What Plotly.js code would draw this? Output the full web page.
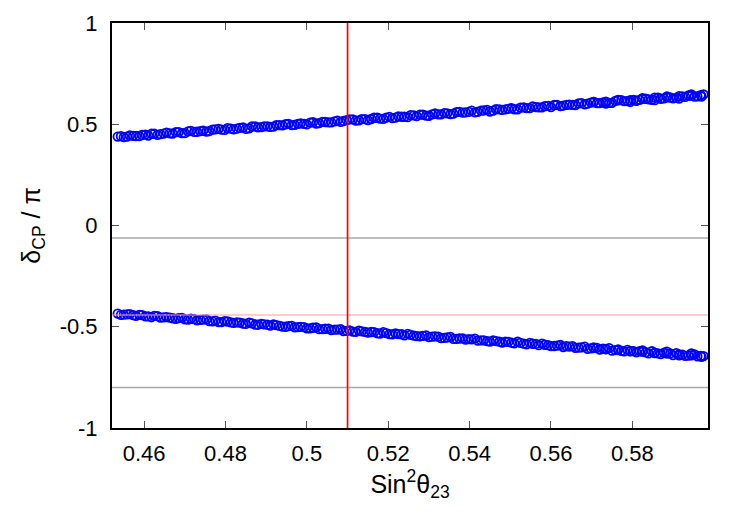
<!DOCTYPE html>
<html>
<head>
<meta charset="utf-8">
<script src="https://cdn.plot.ly/plotly-3.0.1.min.js"></script>
<style>
  html, body { margin: 0; padding: 0; background: #ffffff; }
  #plot { width: 750px; height: 525px; }
</style>
</head>
<body>
<div id="plot"></div>
<script>
// sin^2(theta23) sample points, first scan pass
const sin2ScanA = [
  0.4535, 0.4550, 0.4565, 0.4580, 0.4595, 0.4610, 0.4625, 0.4640, 0.4655, 0.4670,
  0.4685, 0.4700, 0.4715, 0.4730, 0.4745, 0.4760, 0.4775, 0.4790, 0.4805, 0.4820,
  0.4835, 0.4850, 0.4865, 0.4880, 0.4895, 0.4910, 0.4925, 0.4940, 0.4955, 0.4970,
  0.4985, 0.5000, 0.5015, 0.5030, 0.5045, 0.5060, 0.5075, 0.5090, 0.5105, 0.5120,
  0.5135, 0.5150, 0.5165, 0.5180, 0.5195, 0.5210, 0.5225, 0.5240, 0.5255, 0.5270,
  0.5285, 0.5300, 0.5315, 0.5330, 0.5345, 0.5360, 0.5375, 0.5390, 0.5405, 0.5420,
  0.5435, 0.5450, 0.5465, 0.5480, 0.5495, 0.5510, 0.5525, 0.5540, 0.5555, 0.5570,
  0.5585, 0.5600, 0.5615, 0.5630, 0.5645, 0.5660, 0.5675, 0.5690, 0.5705, 0.5720,
  0.5735, 0.5750, 0.5765, 0.5780, 0.5795, 0.5810, 0.5825, 0.5840, 0.5855, 0.5870,
  0.5885, 0.5900, 0.5915, 0.5930, 0.5945, 0.5960, 0.5975
];

// delta_CP / pi, upper branch, first pass
const deltaUpperA = [
  0.439, 0.436, 0.445, 0.442, 0.447, 0.444, 0.453, 0.451, 0.459, 0.454,
  0.461, 0.456, 0.467, 0.463, 0.468, 0.466, 0.475, 0.473, 0.481, 0.475,
  0.482, 0.477, 0.489, 0.485, 0.490, 0.487, 0.496, 0.494, 0.502, 0.497,
  0.504, 0.499, 0.510, 0.506, 0.511, 0.509, 0.518, 0.516, 0.524, 0.518,
  0.525, 0.520, 0.532, 0.528, 0.533, 0.530, 0.539, 0.537, 0.545, 0.540,
  0.547, 0.542, 0.553, 0.549, 0.554, 0.552, 0.561, 0.559, 0.567, 0.561,
  0.568, 0.563, 0.575, 0.571, 0.576, 0.573, 0.582, 0.580, 0.588, 0.583,
  0.590, 0.585, 0.596, 0.592, 0.597, 0.595, 0.604, 0.602, 0.610, 0.604,
  0.611, 0.606, 0.618, 0.614, 0.619, 0.616, 0.625, 0.623, 0.631, 0.626,
  0.633, 0.628, 0.639, 0.635, 0.640, 0.638, 0.647
];

// delta_CP / pi, lower branch, first pass
const deltaLowerA = [
  -0.435, -0.440, -0.438, -0.446, -0.443, -0.449, -0.446, -0.455, -0.452, -0.458,
  -0.457, -0.463, -0.460, -0.468, -0.465, -0.472, -0.470, -0.477, -0.474, -0.481,
  -0.480, -0.486, -0.483, -0.490, -0.488, -0.494, -0.492, -0.499, -0.497, -0.503,
  -0.501, -0.508, -0.505, -0.512, -0.510, -0.516, -0.514, -0.521, -0.518, -0.525,
  -0.523, -0.529, -0.527, -0.534, -0.531, -0.538, -0.536, -0.543, -0.540, -0.546,
  -0.545, -0.551, -0.548, -0.556, -0.553, -0.560, -0.558, -0.564, -0.562, -0.569,
  -0.567, -0.573, -0.571, -0.578, -0.575, -0.582, -0.580, -0.587, -0.584, -0.591,
  -0.589, -0.596, -0.593, -0.600, -0.598, -0.604, -0.602, -0.609, -0.606, -0.613,
  -0.611, -0.618, -0.615, -0.622, -0.620, -0.626, -0.624, -0.631, -0.628, -0.635,
  -0.633, -0.640, -0.637, -0.644, -0.641, -0.646, -0.645
];

// sin^2(theta23) sample points, second scan pass
const sin2ScanB = [
  0.4543, 0.4558, 0.4573, 0.4588, 0.4603, 0.4618, 0.4633, 0.4648, 0.4663, 0.4678,
  0.4693, 0.4708, 0.4723, 0.4738, 0.4753, 0.4768, 0.4783, 0.4798, 0.4813, 0.4828,
  0.4843, 0.4858, 0.4873, 0.4888, 0.4903, 0.4918, 0.4933, 0.4948, 0.4963, 0.4978,
  0.4993, 0.5008, 0.5023, 0.5038, 0.5053, 0.5068, 0.5083, 0.5098, 0.5113, 0.5128,
  0.5143, 0.5158, 0.5173, 0.5188, 0.5203, 0.5218, 0.5233, 0.5248, 0.5263, 0.5278,
  0.5293, 0.5308, 0.5323, 0.5338, 0.5353, 0.5368, 0.5383, 0.5398, 0.5413, 0.5428,
  0.5443, 0.5458, 0.5473, 0.5488, 0.5503, 0.5518, 0.5533, 0.5548, 0.5563, 0.5578,
  0.5593, 0.5608, 0.5623, 0.5638, 0.5653, 0.5668, 0.5683, 0.5698, 0.5713, 0.5728,
  0.5743, 0.5758, 0.5773, 0.5788, 0.5803, 0.5818, 0.5833, 0.5848, 0.5863, 0.5878,
  0.5893, 0.5908, 0.5923, 0.5938, 0.5953, 0.5968
];

// delta_CP / pi, upper branch, second pass
const deltaUpperB = [
  0.441, 0.439, 0.443, 0.441, 0.449, 0.453, 0.448, 0.454, 0.455, 0.461,
  0.456, 0.465, 0.462, 0.466, 0.464, 0.473, 0.477, 0.472, 0.478, 0.478,
  0.484, 0.480, 0.489, 0.486, 0.490, 0.488, 0.496, 0.500, 0.496, 0.502,
  0.502, 0.508, 0.503, 0.512, 0.509, 0.514, 0.512, 0.520, 0.524, 0.519,
  0.525, 0.526, 0.532, 0.527, 0.536, 0.533, 0.537, 0.535, 0.544, 0.548,
  0.543, 0.549, 0.549, 0.555, 0.550, 0.560, 0.557, 0.561, 0.559, 0.567,
  0.571, 0.567, 0.573, 0.573, 0.579, 0.574, 0.583, 0.580, 0.585, 0.583,
  0.591, 0.595, 0.590, 0.596, 0.596, 0.603, 0.598, 0.607, 0.604, 0.608,
  0.606, 0.615, 0.619, 0.614, 0.620, 0.620, 0.626, 0.621, 0.631, 0.628,
  0.632, 0.630, 0.638, 0.642, 0.637, 0.644
];

// delta_CP / pi, lower branch, second pass
const deltaLowerB = [
  -0.441, -0.439, -0.443, -0.441, -0.449, -0.453, -0.448, -0.454, -0.455, -0.461,
  -0.456, -0.465, -0.462, -0.466, -0.464, -0.473, -0.477, -0.472, -0.478, -0.478,
  -0.484, -0.480, -0.489, -0.486, -0.490, -0.488, -0.496, -0.500, -0.496, -0.502,
  -0.502, -0.508, -0.503, -0.512, -0.509, -0.514, -0.512, -0.520, -0.524, -0.519,
  -0.525, -0.526, -0.532, -0.527, -0.536, -0.533, -0.537, -0.535, -0.544, -0.548,
  -0.543, -0.549, -0.549, -0.555, -0.550, -0.560, -0.557, -0.561, -0.559, -0.567,
  -0.571, -0.567, -0.573, -0.573, -0.579, -0.574, -0.583, -0.580, -0.585, -0.583,
  -0.591, -0.595, -0.590, -0.596, -0.596, -0.603, -0.598, -0.607, -0.604, -0.608,
  -0.606, -0.615, -0.619, -0.614, -0.620, -0.620, -0.626, -0.621, -0.631, -0.628,
  -0.632, -0.630, -0.638, -0.642, -0.637, -0.644
];

// extra points near the upper end of the scan, where the spread widens
const sin2ScanC = [0.5705, 0.5735, 0.5765, 0.5795, 0.5825, 0.5855, 0.5885, 0.5915, 0.5945, 0.5970];
const deltaUpperC = [0.610, 0.602, 0.620, 0.610, 0.629, 0.619, 0.638, 0.627, 0.647, 0.636];
const deltaLowerC = [-0.602, -0.610, -0.612, -0.621, -0.617, -0.630, -0.623, -0.641, -0.632, -0.649];

// reference lines
const bestFitSin2 = 0.51;
const grayLevels = [-0.062, -0.80];
const pinkLevel = -0.442;

// axis ticks
const xTickVals = [0.46, 0.48, 0.50, 0.52, 0.54, 0.56, 0.58];
const xTickText = ['0.46', '0.48', '0.5', '0.52', '0.54', '0.56', '0.58'];
const yTickVals = [1, 0.5, 0, -0.5, -1];
const yTickText = ['1', '0.5', '0', '-0.5', '-1'];

const markerStyle = {
  symbol: 'circle-open',
  size: 8.5,
  color: '#0000ff',
  line: { width: 1.8, color: '#0000ff' }
};

function band(x, y) {
  return { x: x, y: y, type: 'scatter', mode: 'markers', marker: markerStyle, hoverinfo: 'x+y' };
}

const traces = [
  band(sin2ScanA, deltaUpperA),
  band(sin2ScanB, deltaUpperB),
  band(sin2ScanC, deltaUpperC),
  band(sin2ScanA, deltaLowerA),
  band(sin2ScanB, deltaLowerB),
  band(sin2ScanC, deltaLowerC)
];

const shapes = [];
grayLevels.forEach(v => shapes.push({
  type: 'line', xref: 'paper', x0: 0, x1: 1, yref: 'y', y0: v, y1: v,
  line: { color: '#a8a8a8', width: 1.5 }, layer: 'above'
}));
shapes.push({
  type: 'line', xref: 'paper', x0: 0, x1: 1, yref: 'y', y0: pinkLevel, y1: pinkLevel,
  line: { color: '#ff9a9a', width: 1.2 }, layer: 'above'
});
shapes.push({
  type: 'line', xref: 'x', x0: bestFitSin2, x1: bestFitSin2, yref: 'paper', y0: 0, y1: 1,
  line: { color: '#ff0000', width: 1.7 }, layer: 'above'
});

const fontFamily = 'Liberation Sans, Arial, sans-serif';

const axisCommon = {
  showgrid: false,
  zeroline: false,
  showline: true,
  linecolor: '#000000',
  linewidth: 2,
  mirror: 'ticks',
  ticks: 'inside',
  ticklen: 7,
  tickwidth: 1,
  tickcolor: '#555555',
  tickfont: { family: fontFamily, size: 22, color: '#000000' }
};

const layout = {
  width: 750,
  height: 525,
  margin: { l: 112, r: 42, t: 23, b: 97 },
  paper_bgcolor: '#ffffff',
  plot_bgcolor: '#ffffff',
  showlegend: false,
  font: { family: fontFamily, size: 22, color: '#000000' },
  xaxis: Object.assign({}, axisCommon, {
    range: [0.4521, 0.5986],
    tickmode: 'array',
    tickvals: xTickVals,
    ticktext: xTickText,
    ticklabelstandoff: 5,
    title: { text: 'Sin<sup>2</sup>θ<sub>23</sub>', font: { family: fontFamily, size: 25, color: '#000000' }, standoff: 10 }
  }),
  yaxis: Object.assign({}, axisCommon, {
    range: [-1, 1],
    tickmode: 'array',
    tickvals: yTickVals,
    ticktext: yTickText,
    ticklabelstandoff: 8,
    title: { text: 'δ<sub>CP</sub> / π', font: { family: fontFamily, size: 25, color: '#000000' }, standoff: 12 }
  }),
  shapes: shapes
};

Plotly.newPlot('plot', traces, layout, { staticPlot: true, displayModeBar: false });
</script>
</body>
</html>
